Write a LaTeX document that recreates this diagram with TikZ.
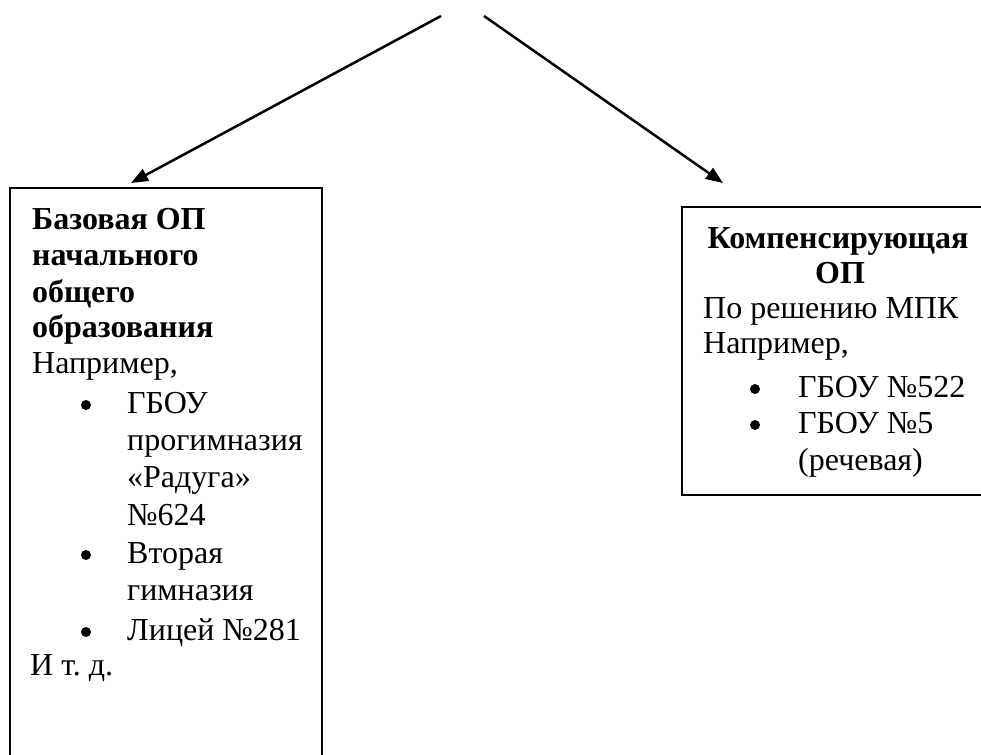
\documentclass[tikz,border=0pt]{standalone}
\usepackage{fontspec}
\setmainfont{Liberation Serif}
\usetikzlibrary{arrows.meta}
\tikzset{
  txt/.style={anchor=base west, inner sep=0pt, font=\fontsize{32}{37}\selectfont},
  btxt/.style={txt, font=\fontsize{32}{37}\selectfont\bfseries},
  ctxt/.style={anchor=base, inner sep=0pt, font=\fontsize{32}{37}\selectfont\bfseries},
  bul/.style={circle, fill=black, inner sep=0pt, minimum size=10pt},
  boxline/.style={draw=black, line width=2pt},
  conn/.style={line width=2.5pt, -{Triangle[length=17pt,width=13pt]}}
}
\begin{document}
\begin{tikzpicture}[x=1pt,y=-1pt]
\useasboundingbox (0,0) rectangle (981,754);
% boxes
\draw[boxline] (10,188) rectangle (322,775);
\draw[boxline] (682,207) rectangle (1000,495);
% arrows
\coordinate (s1) at (441,16);
\coordinate (e1) at (131,183);
\coordinate (s2) at (484,16);
\coordinate (e2) at (723,183);
\draw[conn] (s1) -- (e1);
\draw[conn] (s2) -- (e2);
% left box text
\node[btxt] (l1) at (32,229) {Базовая ОП};
\node[btxt] (l2) at (32,265) {начального};
\node[btxt] (l3) at (32,302) {общего};
\node[btxt] (l4) at (32,337) {образования};
\node[txt] (l5) at (32,373) {Например,};
\node[bul] (lb1) at (86,405) {};
\node[txt] (l6) at (127,413) {ГБОУ};
\node[txt] (l7) at (127,450) {прогимназия};
\node[txt] (l8) at (127,487) {«Радуга»};
\node[txt] (l9) at (127,525) {№624};
\node[bul] (lb2) at (86,555) {};
\node[txt] (l10) at (127,563) {Вторая};
\node[txt] (l11) at (127,600) {гимназия};
\node[bul] (lb3) at (86,632) {};
\node[txt] (l12) at (127,640) {Лицей №281};
\node[txt] (l13) at (30,675) {И т.\ д.};
% right box text
\node[ctxt] (r1) at (838,248) {Компенсирующая};
\node[ctxt] (r2) at (840,283) {ОП};
\node[txt] (r3) at (703,318) {По решению МПК};
\node[txt] (r4) at (703,353) {Например,};
\node[bul] (rb1) at (755,389) {};
\node[txt] (r5) at (798,397) {ГБОУ №522};
\node[bul] (rb2) at (755,425) {};
\node[txt] (r6) at (798,433) {ГБОУ №5};
\node[txt] (r7) at (798,470) {(речевая)};
\end{tikzpicture}
\end{document}
